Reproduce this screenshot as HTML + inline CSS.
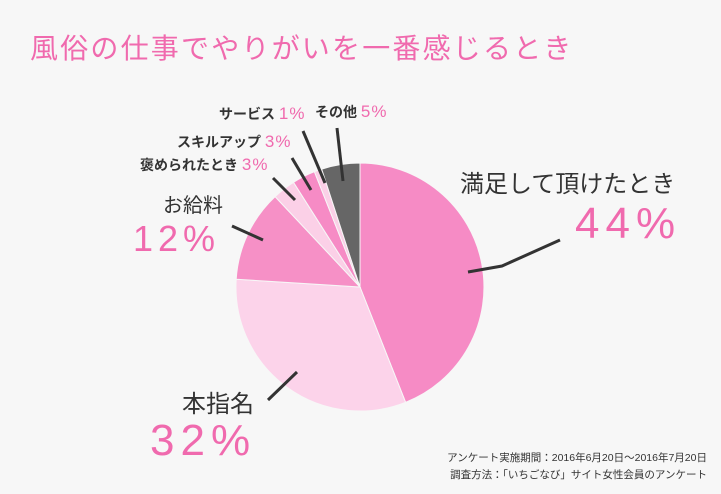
<!DOCTYPE html>
<html><head><meta charset="utf-8"><style>
html,body{margin:0;padding:0;background:#f7f7f7;}
svg{display:block;font-family:"Liberation Sans","Noto Sans CJK JP",sans-serif;}
</style></head><body>
<svg width="721" height="494" viewBox="0 0 721 494">
<rect width="721" height="494" fill="#f7f7f7"/>
<text x="30" y="58" font-size="28" letter-spacing="2.2" fill="#f06aae">風俗の仕事でやりがいを一番感じるとき</text>
<g stroke="#f7f7f7" stroke-width="1">
<path d="M360,287 L360,163 A124,124 0 0 1 405.6,402.3 Z" fill="#f68bc5"/>
<path d="M360,287 L405.6,402.3 A124,124 0 0 1 236.2,279.2 Z" fill="#fcd3ea"/>
<path d="M360,287 L236.2,279.2 A124,124 0 0 1 275.1,196.6 Z" fill="#f690c6"/>
<path d="M360,287 L275.1,196.6 A124,124 0 0 1 293.5,182.3 Z" fill="#fbd0e7"/>
<path d="M360,287 L293.5,182.3 A124,124 0 0 1 314.4,171.7 Z" fill="#f68bc5"/>
<path d="M360,287 L314.4,171.7 A124,124 0 0 1 321.7,169.1 Z" fill="#fbd0e7"/>
<path d="M360,287 L321.7,169.1 A124,124 0 0 1 360,163 Z" fill="#666666"/>
</g>
<g stroke="#333" stroke-width="3" fill="none">
<polyline points="468,272 502,266 560,240"/>
<line x1="263" y1="240" x2="232" y2="226"/>
<line x1="297" y1="372" x2="268" y2="400"/>
<line x1="273" y1="178" x2="295" y2="200"/>
<line x1="292" y1="158" x2="311" y2="190"/>
<line x1="303" y1="131" x2="325" y2="183"/>
<line x1="337" y1="128" x2="343" y2="181"/>
</g>
<g fill="#333" font-weight="bold">
<text x="460" y="192" font-size="24" font-weight="normal">満足して頂けたとき</text>
<text x="163" y="212" font-size="20" font-weight="normal">お給料</text>
<text x="182" y="412" font-size="24" font-weight="normal">本指名</text>
<text x="140" y="170" font-size="14">褒められたとき <tspan fill="#f06aae" font-size="17" font-weight="normal" letter-spacing="1">3%</tspan></text>
<text x="177" y="147" font-size="14">スキルアップ <tspan fill="#f06aae" font-size="17" font-weight="normal" letter-spacing="1">3%</tspan></text>
<text x="219" y="119" font-size="14">サービス <tspan fill="#f06aae" font-size="17" font-weight="normal" letter-spacing="1">1%</tspan></text>
<text x="315" y="117" font-size="14">その他 <tspan fill="#f06aae" font-size="17" font-weight="normal" letter-spacing="1">5%</tspan></text>
</g>
<g fill="#f06aae">
<text x="575" y="238" font-size="44" letter-spacing="6">44%</text>
<text x="133" y="251" font-size="36" letter-spacing="5">12%</text>
<text x="150" y="455" font-size="44" letter-spacing="6">32%</text>
</g>
<g fill="#333" font-size="10.5" text-anchor="end">
<text x="707" y="461">アンケート実施期間：2016年6月20日～2016年7月20日</text>
<text x="707" y="478">調査方法：「いちごなび」サイト女性会員のアンケート</text>
</g>
</svg>
</body></html>
